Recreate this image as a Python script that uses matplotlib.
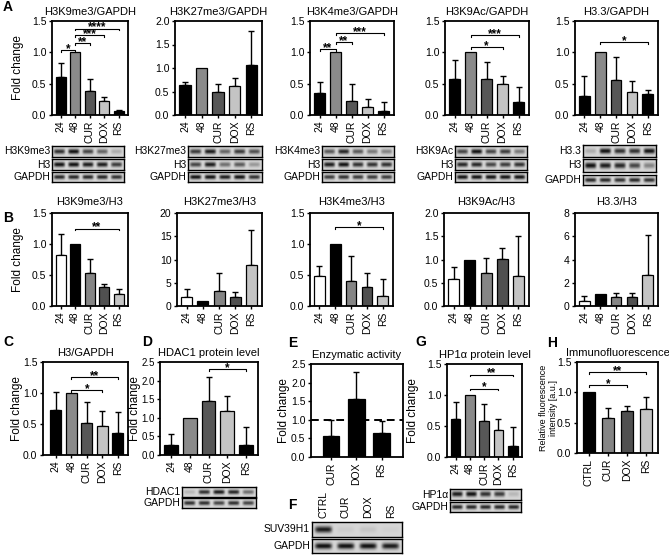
import numpy as np
import matplotlib
matplotlib.use("Agg")
import matplotlib.pyplot as plt

plt.rcParams['font.family'] = ['Liberation Sans', 'DejaVu Sans']
plt.rcParams['axes.linewidth'] = 1.3

W, H = 669, 556

groups5 = ["24", "48", "CUR", "DOX", "RS"]
treat3 = ["CUR", "DOX", "RS"]
groups_h = ["CTRL", "CUR", "DOX", "RS"]
lanes_f = ["CTRL", "CUR", "DOX", "RS"]

# panel A: mark / GAPDH
a_titles = ["H3K9me3/GAPDH", "H3K27me3/GAPDH", "H3K4me3/GAPDH", "H3K9Ac/GAPDH", "H3.3/GAPDH"]
a_means = [[0.60, 1.0, 0.38, 0.23, 0.06],
           [0.64, 1.0, 0.50, 0.62, 1.07],
           [0.35, 1.0, 0.23, 0.13, 0.07],
           [0.57, 1.0, 0.57, 0.50, 0.21],
           [0.30, 1.0, 0.56, 0.36, 0.33]]
a_sd = [[0.23, 0, 0.20, 0.06, 0.02],
        [0.06, 0, 0.17, 0.17, 0.71],
        [0.18, 0, 0.27, 0.12, 0.13],
        [0.30, 0, 0.27, 0.13, 0.24],
        [0.33, 0, 0.37, 0.18, 0.07]]
a_ymax = [1.5, 2.0, 1.5, 1.5, 1.5]
a_sig = [[(0, 1, 1.03, "*"), (1, 2, 1.15, "**"), (1, 3, 1.27, "***"), (1, 4, 1.38, "****")],
         [],
         [(0, 1, 1.05, "**"), (1, 2, 1.16, "**"), (1, 4, 1.31, "***")],
         [(1, 3, 1.08, "*"), (1, 4, 1.27, "***")],
         [(1, 4, 1.16, "*")]]

# panel B: mark / H3
b_titles = ["H3K9me3/H3", "H3K27me3/H3", "H3K4me3/H3", "H3K9Ac/H3", "H3.3/H3"]
b_means = [[0.82, 1.0, 0.53, 0.31, 0.19],
           [1.9, 1.0, 3.2, 1.9, 8.75],
           [0.49, 1.0, 0.40, 0.30, 0.16],
           [0.57, 1.0, 0.72, 1.02, 0.65],
           [0.40, 1.0, 0.78, 0.78, 2.67]]
b_sd = [[0.34, 0, 0.23, 0.04, 0.08],
        [1.65, 0, 3.8, 1.2, 7.55],
        [0.16, 0, 0.40, 0.23, 0.27],
        [0.27, 0, 0.31, 0.23, 0.85],
        [0.50, 0, 0.35, 0.35, 3.43]]
b_ymax = [1.5, 20, 1.5, 2.0, 8]
b_step = [0.5, 5, 0.5, 0.5, 2]
b_sig = [[(1, 4, 1.25, "**")], [], [(1, 4, 1.27, "*")], [], []]

# panel C: H3 / GAPDH
c_means = [0.73, 1.0, 0.52, 0.46, 0.36]
c_sd = [0.29, 0, 0.34, 0.25, 0.34]
c_sig = [(1, 3, 1.05, "*"), (1, 4, 1.26, "**")]

# panel D: HDAC1
d_means = [0.28, 1.0, 1.46, 1.18, 0.28]
d_sd = [0.29, 0, 0.65, 0.40, 0.48]
d_sig = [(2, 4, 2.31, "*")]

# panel E: enzymatic activity
e_means = [0.56, 1.55, 0.65]
e_sd = [0.44, 0.73, 0.33]

# panel G: HP1a
g_means = [0.61, 1.0, 0.58, 0.43, 0.18]
g_sd = [0.28, 0, 0.28, 0.18, 0.31]
g_sig = [(1, 3, 1.10, "*"), (1, 4, 1.33, "**")]

# panel H: immunofluorescence
h_means = [1.0, 0.58, 0.70, 0.73]
h_sd = [0, 0.16, 0.08, 0.20]
h_sig = [(0, 2, 1.12, "*"), (0, 3, 1.33, "**")]

col_a = ["black", "#8a8a8a", "#575757", "#c4c4c4", "black"]
col_b = ["white", "black", "#858585", "#505050", "#c4c4c4"]
col_h = ["black", "#858585", "#505050", "#c4c4c4"]

# western blot band strengths (0..1)
blots_a = [
    [("H3K9me3", [0.8, 0.95, 0.7, 0.55, 0.2]), ("H3", [0.95, 0.95, 0.9, 0.9, 0.75]), ("GAPDH", [0.85, 0.85, 0.85, 0.85, 0.8])],
    [("H3K27me3", [0.75, 0.9, 0.55, 0.75, 0.65]), ("H3", [0.7, 0.9, 0.5, 0.6, 0.3]), ("GAPDH", [0.95, 0.95, 0.9, 0.95, 0.8])],
    [("H3K4me3", [0.6, 0.85, 0.6, 0.45, 0.4]), ("H3", [0.9, 0.95, 0.8, 0.8, 0.8]), ("GAPDH", [0.75, 0.8, 0.75, 0.75, 0.75])],
    [("H3K9Ac", [0.7, 0.95, 0.7, 0.75, 0.45]), ("H3", [0.85, 0.85, 0.7, 0.75, 0.8]), ("GAPDH", [0.95, 0.95, 0.95, 0.95, 0.95])],
    [("H3.3", [0.2, 0.95, 0.8, 0.8, 0.95]), ("H3", [0.95, 0.9, 0.85, 0.7, 0.4]), ("GAPDH", [0.85, 0.85, 0.8, 0.85, 0.8])],
]
blot_d = [("HDAC1", [0.15, 0.8, 0.9, 0.85, 0.5]), ("GAPDH", [0.8, 0.8, 0.7, 0.8, 0.7])]
blot_f = [("SUV39H1", [0.9, 0.05, 0.08, 0.03]), ("GAPDH", [0.95, 0.95, 0.95, 0.9])]
blot_g = [("HP1\u03b1", [0.9, 0.95, 0.8, 0.75, 0.15]), ("GAPDH", [0.85, 0.85, 0.85, 0.85, 0.85])]

fig = plt.figure(figsize=(W / 100, H / 100), dpi=100)


def box(x0, x1, y0, y1):
    return [x0 / W, 1 - y1 / H, (x1 - x0) / W, (y1 - y0) / H]


def bars(rect, title, labels, means, sd, colors, ymax, step, sig=(), ylabel=None,
         xlim=(-0.6, 4.65), width=0.68, fmt="{:.1f}", pad=4, lx=None, yfs=7.5):
    ax = fig.add_axes(box(*rect))
    x = np.arange(len(labels))
    ax.bar(x, means, width=width, color=colors, edgecolor="black", linewidth=0.9, zorder=2)
    sd = np.array(sd)
    m = sd > 0
    ax.errorbar(x[m], np.array(means)[m], yerr=[np.zeros(m.sum()), sd[m]], fmt="none",
                ecolor="black", elinewidth=1.0, capsize=2.5, capthick=1.0, zorder=1)
    ax.set_xlim(*xlim)
    ax.set_ylim(0, ymax)
    yt = np.arange(0, ymax + step / 2, step)
    ax.set_yticks(yt)
    ax.set_yticklabels([fmt.format(v) for v in yt], fontsize=yfs)
    ax.set_xticks(x)
    ax.set_xticklabels(labels, rotation=90, fontsize=7.5)
    ax.tick_params(length=2.5, width=1.0, pad=1.5)
    ax.set_title(title, fontsize=8, pad=pad)
    if ylabel:
        ax.set_ylabel(ylabel, fontsize=8.5)
        if lx is not None:
            ax.yaxis.set_label_coords(lx, 0.5)
    for i, j, h, s in sig:
        t = ymax * 0.018
        ax.plot([x[i], x[i], x[j], x[j]], [h - t, h, h, h - t], color="black", lw=0.8, clip_on=False)
        ax.annotate(s, ((x[i] + x[j]) / 2, h), xytext=(0, -1.3), textcoords="offset points",
                    ha="center", va="baseline", fontsize=8.5, fontweight="bold", annotation_clip=False)
    return ax


def blot(x0, x1, rows, labels=True):
    for (y0, y1), (name, vals) in rows:
        ax = fig.add_axes(box(x0, x1, y0, y1))
        n = len(vals)
        nx, ny = 120, 24
        xx, yy = np.meshgrid(np.linspace(0, n, nx), np.linspace(-1, 1, ny))
        img = np.full((ny, nx), 0.84)
        for k, v in enumerate(vals):
            shape = np.exp(-((xx - (k + 0.5)) / 0.38) ** 6) * np.exp(-(yy / 0.45) ** 2)
            img -= 0.82 * v * shape
        ax.imshow(img, cmap="gray", vmin=0, vmax=1, aspect="auto", interpolation="bilinear")
        ax.set_xticks([])
        ax.set_yticks([])
        for s in ax.spines.values():
            s.set_linewidth(1.0)
        if labels:
            fig.text((x0 - 2) / W, 1 - (y0 + y1) / 2 / H, name, ha="right", va="center", fontsize=7.5)


def letter(x, y, s):
    fig.text(x / W, 1 - y / H, s, fontsize=10, fontweight="bold", ha="left", va="center")


# row A
a_rects = [(52, 128, 21, 115), (175, 262, 21, 115), (310, 394, 21, 115), (445, 529, 21, 115), (575, 658, 21, 115)]
a_blot_x = [(52, 124), (188, 262), (322, 394), (455, 527), (583, 656)]
a_blot_y = [[(146, 157), (159, 170), (172, 182)]] * 4 + [[(145, 157), (159, 172), (175, 185)]]
for k in range(5):
    bars(a_rects[k], a_titles[k], groups5, a_means[k], a_sd[k], col_a, a_ymax[k], 0.5,
         a_sig[k], "Fold change" if k == 0 else None, lx=-0.37)
    blot(a_blot_x[k][0], a_blot_x[k][1], list(zip(a_blot_y[k], blots_a[k])))

# row B
b_rects = [(52, 128, 213, 306), (177, 262, 213, 306), (310, 393, 213, 306), (444, 529, 213, 306), (575, 658, 213, 306)]
for k in range(5):
    fmt = "{:.1f}" if b_step[k] < 1 else "{:.0f}"
    bars(b_rects[k], b_titles[k], groups5, b_means[k], b_sd[k], col_b, b_ymax[k], b_step[k],
         b_sig[k], "Fold change" if k == 0 else None, fmt=fmt, pad=6, lx=-0.37)

# row C-H
bars((43, 128, 362, 455), "H3/GAPDH", groups5, c_means, c_sd, col_a, 1.5, 0.5, c_sig,
     "Fold change", xlim=(-0.82, 4.65), width=0.72, lx=-0.24)
axd = bars((160, 258, 362, 455), "HDAC1 protein level", groups5, d_means, d_sd, col_a, 2.5, 0.5, d_sig,
           "Fold change", width=0.72, lx=-0.195, yfs=7)
axd.tick_params(axis="y", pad=1)
axe = bars((311, 403, 364, 457), "Enzymatic activity", treat3, e_means, e_sd, ["black"] * 3, 2.5, 0.5,
           (), "Fold change", xlim=(-0.8, 2.85), width=0.65, lx=-0.23)
axe.axhline(1.0, color="black", lw=1.4, ls=(0, (4, 2.5)), zorder=3)
bars((447, 522, 364, 457), "HP1\u03b1 protein level", groups5, g_means, g_sd, col_a, 1.5, 0.5, g_sig,
     "Fold change", lx=-0.37)
axh = bars((577, 658, 362, 453), "Immunofluorescence", groups_h, h_means, h_sd, col_h, 1.5, 0.5, h_sig,
           None, xlim=(-0.6, 3.6), width=0.62)
axh.set_ylabel("Relative fluorescence\nintensity [a.u.]", fontsize=6.5, linespacing=1.1)
axh.yaxis.set_label_coords(-0.24, 0.5)

blot(182, 256, list(zip([(487, 497), (498, 508)], blot_d)))
blot(450, 521, list(zip([(489, 500), (502, 512)], blot_g)))
blot(312, 402, list(zip([(522, 537), (539, 553)], blot_f)))
for k, name in enumerate(lanes_f):
    fig.text((312 + (k + 0.5) * 90 / len(lanes_f)) / W, 1 - 518 / H, name, rotation=90,
             ha="center", va="bottom", fontsize=7.5)

letter(3, 7, "A")
letter(3, 218, "B")
letter(3, 342, "C")
letter(142, 342, "D")
letter(288, 343, "E")
letter(288, 505, "F")
letter(415, 342, "G")
letter(547, 343, "H")

fig.savefig("out.png", dpi=100)
